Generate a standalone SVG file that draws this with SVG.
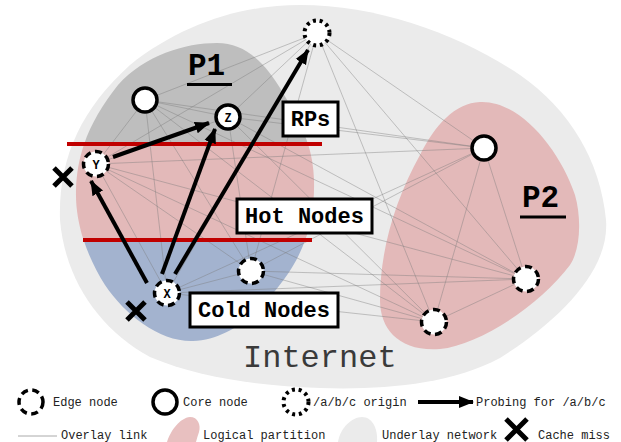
<svg xmlns="http://www.w3.org/2000/svg" width="621" height="442" viewBox="0 0 621 442">
<style>
.link{stroke:#7a7a7a;stroke-width:0.7;stroke-opacity:0.6;fill:none}
.node{fill:#fff;stroke:#000;stroke-width:3.5}
.edge{stroke-dasharray:7 4.5}
.origin{stroke-dasharray:3 3.8;stroke-width:4}
.probe{stroke:#000;stroke-width:4;fill:none;marker-end:url(#ah)}
.miss{stroke:#000;stroke-width:5;fill:none}
.box{fill:#fff;stroke:#000;stroke-width:3}
.bt{font-family:"Liberation Mono",monospace;font-weight:bold;font-size:22px;text-anchor:middle;fill:#000}
.nl{font-family:"Liberation Mono",monospace;font-weight:bold;font-size:12px;text-anchor:middle;fill:#000}
.pl{font-family:"Liberation Mono",monospace;font-weight:bold;font-size:31px;fill:#000}
.lg{font-family:"Liberation Mono",monospace;font-size:12px;fill:#222}
.red{stroke:#c00000;stroke-width:4}
</style>
<defs>
<marker id="ah" markerUnits="userSpaceOnUse" markerWidth="16" markerHeight="14" refX="14" refY="7" orient="auto">
<path d="M0,1 L15,7 L0,13 Z" fill="#000"/>
</marker>
<path id="p1shape" d="M217,43 C245,43 265,62 283,93 C300,122 313,145 314,180 C315,220 305,250 285,278 C262,310 230,340 193,341 C160,342 125,315 105,285 C88,258 75,225 76,190 C77,150 92,118 118,85 C145,55 185,43 217,43 Z"/>
<clipPath id="cTop"><rect x="0" y="0" width="621" height="144"/></clipPath>
<clipPath id="cMid"><rect x="0" y="144" width="621" height="96"/></clipPath>
<clipPath id="cBot"><rect x="0" y="240" width="621" height="202"/></clipPath>
</defs>

<g id="underlay">
<path d="M300,5 C380,5 460,35 520,75 C570,110 600,160 606,220 C610,270 560,320 500,358 C450,385 380,390 320,388 C260,386 200,378 150,357 C100,330 65,280 60,220 C58,160 80,110 130,65 C180,25 240,5 300,5 Z" fill="#ebebeb"/>
</g>

<g id="partition-p1">
<use href="#p1shape" fill="#bebebe" clip-path="url(#cTop)"/>
<use href="#p1shape" fill="#e3b9b9" clip-path="url(#cMid)"/>
<use href="#p1shape" fill="#a3b3cf" clip-path="url(#cBot)"/>
</g>

<g id="partition-p2">
<path d="M480,102 C520,100 560,150 575,195 C582,220 580,250 570,265 C540,305 480,345 440,349 C400,352 380,330 380,300 C380,250 395,200 420,155 C435,125 455,103 480,102 Z" fill="#e3b9b9"/>
</g>

<g id="links">
<line class="link" x1="317" y1="33" x2="145" y2="100"/>
<line class="link" x1="317" y1="33" x2="228" y2="117"/>
<line class="link" x1="317" y1="33" x2="96" y2="164"/>
<line class="link" x1="317" y1="33" x2="251" y2="271"/>
<line class="link" x1="317" y1="33" x2="484" y2="148"/>
<line class="link" x1="317" y1="33" x2="526" y2="279"/>
<line class="link" x1="317" y1="33" x2="434" y2="322"/>
<line class="link" x1="317" y1="33" x2="167" y2="293"/>
<line class="link" x1="145" y1="100" x2="228" y2="117"/>
<line class="link" x1="145" y1="100" x2="96" y2="164"/>
<line class="link" x1="145" y1="100" x2="167" y2="293"/>
<line class="link" x1="145" y1="100" x2="251" y2="271"/>
<line class="link" x1="145" y1="100" x2="484" y2="148"/>
<line class="link" x1="145" y1="100" x2="526" y2="279"/>
<line class="link" x1="145" y1="100" x2="434" y2="322"/>
<line class="link" x1="228" y1="117" x2="96" y2="164"/>
<line class="link" x1="228" y1="117" x2="251" y2="271"/>
<line class="link" x1="228" y1="117" x2="484" y2="148"/>
<line class="link" x1="228" y1="117" x2="526" y2="279"/>
<line class="link" x1="228" y1="117" x2="434" y2="322"/>
<line class="link" x1="96" y1="164" x2="167" y2="293"/>
<line class="link" x1="96" y1="164" x2="251" y2="271"/>
<line class="link" x1="96" y1="164" x2="484" y2="148"/>
<line class="link" x1="96" y1="164" x2="526" y2="279"/>
<line class="link" x1="96" y1="164" x2="434" y2="322"/>
<line class="link" x1="167" y1="293" x2="251" y2="271"/>
<line class="link" x1="167" y1="293" x2="484" y2="148"/>
<line class="link" x1="167" y1="293" x2="526" y2="279"/>
<line class="link" x1="167" y1="293" x2="434" y2="322"/>
<line class="link" x1="251" y1="271" x2="484" y2="148"/>
<line class="link" x1="251" y1="271" x2="526" y2="279"/>
<line class="link" x1="251" y1="271" x2="434" y2="322"/>
<line class="link" x1="484" y1="148" x2="526" y2="279"/>
<line class="link" x1="484" y1="148" x2="434" y2="322"/>
<line class="link" x1="526" y1="279" x2="434" y2="322"/>
</g>

<g id="tier-lines">
<line class="red" x1="67" y1="144" x2="322" y2="144"/>
<line class="red" x1="83" y1="240" x2="312" y2="240"/>
</g>

<g id="label-p1">
<text class="pl" x="188" y="75">P1</text>
<line x1="187" y1="84.5" x2="232" y2="84.5" stroke="#000" stroke-width="3"/>
</g>
<g id="label-p2">
<text class="pl" x="522" y="207">P2</text>
<line x1="520" y1="217" x2="566" y2="217" stroke="#000" stroke-width="3"/>
</g>

<g id="probes">
<line class="probe" x1="147" y1="283" x2="91" y2="181"/>
<line class="probe" x1="162" y1="274" x2="215" y2="129"/>
<line class="probe" x1="175" y1="274" x2="308" y2="50"/>
<line class="probe" x1="113" y1="157" x2="209" y2="123"/>
</g>

<g id="node-origin"><circle class="node origin" cx="317" cy="33" r="12.5"/></g>
<g id="node-core-p1"><circle class="node" cx="145" cy="100" r="12"/></g>
<g id="node-z"><circle class="node" cx="228" cy="117" r="12"/><text class="nl" x="228" y="121.5">Z</text></g>
<g id="node-y"><circle class="node edge" cx="96" cy="164" r="12.5"/><text class="nl" x="96" y="168.5">Y</text></g>
<g id="node-x"><circle class="node edge" cx="167" cy="293" r="12.5"/><text class="nl" x="167" y="297.5">X</text></g>
<g id="node-edge-mid"><circle class="node edge" cx="251" cy="271" r="12.5"/></g>
<g id="node-core-p2"><circle class="node" cx="484" cy="148" r="12"/></g>
<g id="node-edge-p2a"><circle class="node edge" cx="526" cy="279" r="12.5"/></g>
<g id="node-edge-p2b"><circle class="node edge" cx="434" cy="322" r="12.5"/></g>

<g id="miss-y"><path class="miss" d="M54,168 L72,186 M72,168 L54,186"/></g>
<g id="miss-x"><path class="miss" d="M127,302 L145,320 M145,302 L127,320"/></g>

<g id="box-rps"><rect class="box" x="283" y="102" width="55" height="34"/><text class="bt" x="310.5" y="126">RPs</text></g>
<g id="box-hot"><rect class="box" x="237" y="199" width="135" height="34"/><text class="bt" x="304.5" y="223">Hot Nodes</text></g>
<g id="box-cold"><rect class="box" x="190" y="293" width="148" height="34"/><text class="bt" x="264" y="317">Cold Nodes</text></g>

<g id="label-internet"><text x="243" y="367" font-family="Liberation Mono, monospace" font-size="32" fill="#3a3a3a">Internet</text></g>

<g id="legend">
<circle class="node edge" cx="31" cy="402" r="12"/>
<text class="lg" x="53" y="406">Edge node</text>
<circle class="node" cx="165" cy="402" r="12" stroke-width="4"/>
<text class="lg" x="183" y="406">Core node</text>
<circle class="node origin" cx="296" cy="402" r="12.5"/>
<text class="lg" x="313" y="406">/a/b/c origin</text>
<line class="probe" x1="418" y1="402" x2="473" y2="402"/>
<text class="lg" x="476" y="406">Probing for /a/b/c</text>
<line x1="18" y1="436" x2="57" y2="436" stroke="#aaa" stroke-width="1"/>
<text class="lg" x="61" y="439">Overlay link</text>
<path d="M167,442 C171,430 180,418 190,417 C198,417 201,425 199,432 C197,438 196,442 196,442 Z" fill="#e8c0c0"/>
<text class="lg" x="203" y="439">Logical partition</text>
<path d="M338,442 C340,428 352,417 362,417 C372,417 378,428 377,442 Z" fill="#ebebeb"/>
<text class="lg" x="382" y="439">Underlay network</text>
<path class="miss" d="M506,419 L527,440 M527,419 L506,440"/>
<text class="lg" x="538" y="439">Cache miss</text>
</g>
</svg>
